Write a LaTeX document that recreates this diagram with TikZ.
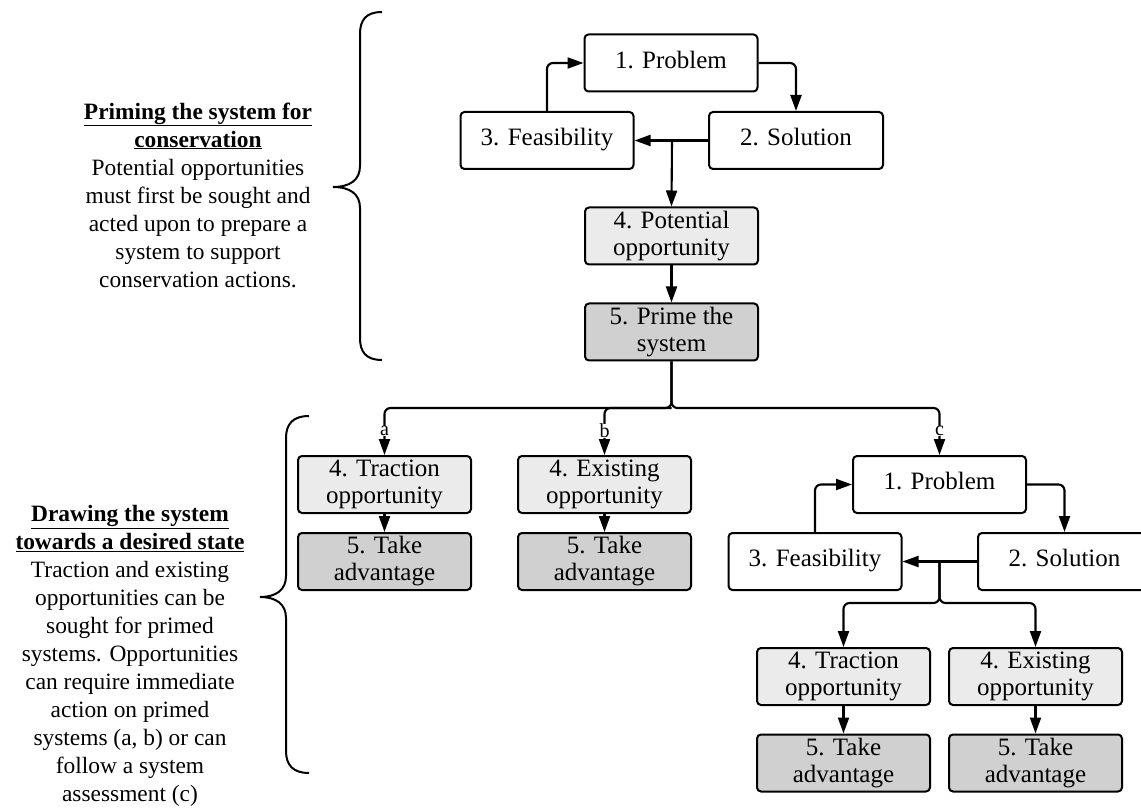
\documentclass[tikz,border=0pt]{standalone}
\usepackage{fontspec}
\setmainfont{Liberation Serif}
\usetikzlibrary{arrows.meta}
\definecolor{lightfill}{RGB}{235,235,235}
\definecolor{darkfill}{RGB}{208,208,208}
\tikzset{
  box/.style={draw, line width=2pt, rounded corners=4pt, minimum width=173pt, minimum height=57pt,
    inner sep=0pt, align=center, font=\fontsize{25}{27}\selectfont, fill=white},
  optbox/.style={box, fill=lightfill},
  actbox/.style={box, fill=darkfill},
  arr/.style={line width=2.1pt, -{Triangle[length=16pt,width=11pt]}},
  rc/.style={rounded corners=6pt},
  brace/.style={line width=2pt},
  lbl/.style={fill=white, inner sep=0.3pt, font=\fontsize{20}{20}\selectfont},
  side/.style={align=center, font=\fontsize{23.4}{28}\selectfont}
}
\begin{document}
\begin{tikzpicture}[x=1pt,y={(0pt,-1pt)}]
\useasboundingbox (0,0) rectangle (1141,810);
% upper group
\node[box] (p1) at (671,63) {\strut 1. Problem};
\node[box] (f1) at (547,140.5) {\strut 3. Feasibility};
\node[box, minimum width=174pt] (s1) at (796,140.5) {\strut 2. Solution};
\node[optbox] (po) at (671.5,236) {4. Potential\\opportunity};
\node[actbox] (pr) at (671.5,332) {5. Prime the\\system};
% lower a, b
\node[optbox] (ta) at (384.5,484.5) {4. Traction\\opportunity};
\node[actbox] (tk1) at (384.5,561.5) {5. Take\\advantage};
\node[optbox] (ea) at (604.5,484.5) {4. Existing\\opportunity};
\node[actbox] (tk2) at (604.5,561.5) {5. Take\\advantage};
% lower c
\node[box] (p2) at (939.5,484.5) {\strut 1. Problem};
\node[box] (f2) at (815,561.5) {\strut 3. Feasibility};
\node[box] (s2) at (1064.5,561.5) {\strut 2. Solution};
\node[optbox] (ta2) at (843.5,676.5) {4. Traction\\opportunity};
\node[actbox] (tk3) at (843.5,763) {5. Take\\advantage};
\node[optbox] (ea2) at (1035.5,676.5) {4. Existing\\opportunity};
\node[actbox] (tk4) at (1035.5,763) {5. Take\\advantage};
% junction coordinates
\coordinate (j1) at (672,140.5);
\coordinate (j2) at (671.5,408);
\coordinate (j3) at (939.5,561.5);
\coordinate (j4) at (939.5,603);
% upper connectors
\draw[arr] (f1.north) [rc] |- (p1.west);
\draw[arr] (p1.east) [rc] -| (s1.north);
\draw[arr] (s1.west) -- (f1.east);
\draw[arr] (j1) -- (po.north);
\draw[arr] (po.south) -- (pr.north);
% branching
\draw[arr] (pr.south) [rc] -- (j2) -| (ta.north);
\draw[arr] (j2) [rc] -| (ea.north);
\draw[arr] (pr.south) [rc] -- (j2) -| (p2.north);
\node[lbl] (la) at (384.5,431) {a};
\node[lbl] (lb) at (604.5,431) {b};
\node[lbl] (lc) at (939.5,431) {c};
\draw[arr] (ta.south) -- (tk1.north);
\draw[arr] (ea.south) -- (tk2.north);
% c group
\draw[arr] (f2.north) [rc] |- (p2.west);
\draw[arr] (p2.east) [rc] -| (s2.north);
\draw[arr] (s2.west) -- (f2.east);
\draw[arr] (j3) [rc] -- (j4) -| (ta2.north);
\draw[arr] (j3) [rc] -- (j4) -| (ea2.north);
\draw[arr] (ta2.south) -- (tk3.north);
\draw[arr] (ea2.south) -- (tk4.north);
% braces
\draw[brace] (382,12) .. controls (366,12) and (360,20) .. (360,34) -- (360,166)
  .. controls (360,180) and (350,187) .. (333,187)
  .. controls (350,187) and (360,194) .. (360,208) -- (360,338)
  .. controls (360,352) and (366,360) .. (382,360);
\draw[brace] (309,416) .. controls (293,416) and (286,424) .. (286,438) -- (286,576)
  .. controls (286,590) and (276,597) .. (260,597)
  .. controls (276,597) and (286,604) .. (286,618) -- (286,751)
  .. controls (286,765) and (293,773) .. (309,773);
% side texts
\node[side] (t1) at (198,195) {\underline{\textbf{Priming the system for}}\\
  \underline{\textbf{conservation}}\\
  Potential opportunities\\must first be sought and\\acted upon to prepare a\\
  system to support\\conservation actions.};
\node[side] (t2) at (130,656) {\underline{\textbf{Drawing the system}}\\
  \underline{\textbf{towards a desired state}}\\
  Traction and existing\\opportunities can be\\sought for primed\\
  systems. Opportunities\\can require immediate\\action on primed\\
  systems (a, b) or can\\follow a system\\assessment (c)};
\end{tikzpicture}
\end{document}
